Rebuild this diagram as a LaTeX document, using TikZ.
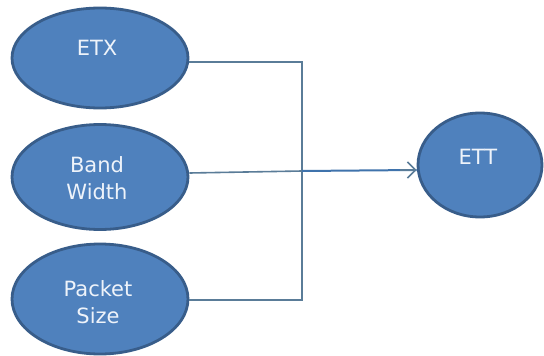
\documentclass[tikz,border=0pt]{standalone}
\usepackage{fontspec}
\setmainfont{DejaVu Sans}
\usetikzlibrary{shapes.geometric,arrows.meta}
\definecolor{fillblue}{HTML}{4F81BD}
\definecolor{edgeblue}{HTML}{385D8A}
\definecolor{wireGray}{HTML}{5A7C98}
\definecolor{wireBlue}{HTML}{3F73AC}
\definecolor{labelwhite}{HTML}{EEF3FA}
\tikzset{
  metric/.style={ellipse, draw=edgeblue, line width=2.8pt, fill=fillblue,
    inner sep=0pt},
  metriclabel/.style={text=labelwhite, font=\fontsize{21}{27}\selectfont,
    align=center, inner sep=0pt},
  wire/.style={draw=wireGray, line width=1.6pt},
}
\begin{document}
\begin{tikzpicture}[x=1pt,y=-1pt]
  \useasboundingbox (0,0) rectangle (544,356);
  \fill[white] (0,0) rectangle (544,356);
  % input metrics
  \node[metric, minimum width=176pt, minimum height=100pt] (etx) at (100,58) {};
  \node[metric, minimum width=176pt, minimum height=105pt] (bw) at (100,177) {};
  \node[metric, minimum width=176pt, minimum height=110pt] (ps) at (100,299) {};
  % output metric
  \node[metric, minimum width=124pt, minimum height=104pt] (ett) at (480,165) {};
  % labels, set slightly above centre
  \node[metriclabel] (tetx) at (97,48) {ETX};
  \node[metriclabel] (tbw) at (97,178) {Band\\Width};
  \node[metriclabel] (tps) at (98,302) {Packet\\Size};
  \node[metriclabel] (tett) at (478,157) {ETT};
  % connectors
  \coordinate (j1) at (302,62);
  \coordinate (j2) at (302,300);
  \coordinate (jm) at (302,171);
  \draw[wire] (etx.east |- j1) -- (j1) -- (j2) -- (ps.east |- j2);
  \draw[wire] (bw.east) ++(0,-4) -- (jm);
  \draw[draw=wireBlue, line width=2pt] (jm) -- (ett.west |- 0,170);
  \draw[wire, -{Straight Barb[length=8pt,width=16pt]}] (400,170) -- (ett.west |- 0,170);
\end{tikzpicture}
\end{document}
